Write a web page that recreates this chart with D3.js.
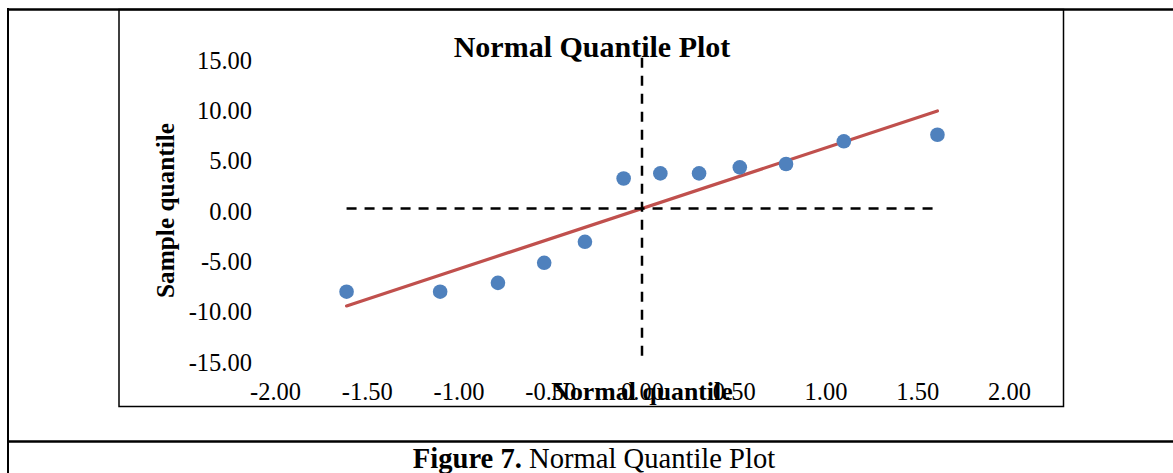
<!DOCTYPE html>
<html>
<head>
<meta charset="utf-8">
<script src="https://cdn.jsdelivr.net/npm/d3@7"></script>
<style>
  body { margin: 0; background: #fff; }
  svg { display: block; font-family: 'Liberation Serif', serif; }
</style>
</head>
<body>
<svg id="chart" width="1173" height="473"></svg>
<script>
// theoretical normal quantiles (x) and the sorted sample (y)
const normalQuantiles = [-1.61, -1.10, -0.785, -0.533, -0.311, -0.10, 0.10, 0.311, 0.533, 0.785, 1.10, 1.61];
const sampleQuantiles = [-8.26, -8.26, -7.38, -5.39, -3.30, 2.99, 3.50, 3.50, 4.10, 4.43, 6.69, 7.34];

// reference line drawn through the points
const fitX = [-1.61, 1.61];
const fitY = [-9.68, 9.70];

// tick labels
const xTicks = [-2, -1.5, -1, -0.5, 0, 0.5, 1, 1.5, 2];
const yTicks = [-15, -10, -5, 0, 5, 10, 15];

const svg = d3.select('#chart');

// page table lines round the figure
svg.append('line').attr('x1', 8).attr('x2', 1173).attr('y1', 9.5).attr('y2', 9.5)
    .attr('stroke', '#000').attr('stroke-width', 2.5);
svg.append('line').attr('x1', 8).attr('x2', 8).attr('y1', 8).attr('y2', 473)
    .attr('stroke', '#000').attr('stroke-width', 2);
svg.append('line').attr('x1', 8).attr('x2', 1173).attr('y1', 441.5).attr('y2', 441.5)
    .attr('stroke', '#000').attr('stroke-width', 2.5);

// chart frame
svg.append('rect').attr('x', 119).attr('y', 9.5).attr('width', 944.5).attr('height', 397)
    .attr('fill', 'none').attr('stroke', '#000').attr('stroke-width', 1.5);

// scales
const x = d3.scaleLinear().domain([-2, 2]).range([275, 1009]);
const y = d3.scaleLinear().domain([-15, 15]).range([359.5, 57.7]);

const fmt = d => d.toFixed(2);

// y axis labels
const yAxis = svg.append('g')
    .attr('transform', 'translate(' + x(-2) + ',0)')
    .call(d3.axisLeft(y).tickValues(yTicks).tickFormat(fmt).tickSize(0).tickPadding(23));
yAxis.select('.domain').remove();
yAxis.selectAll('text')
    .attr('font-family', 'Liberation Serif, serif')
    .attr('font-size', 24.5)
    .attr('fill', '#000')
    .attr('dy', '0.43em');

// x axis labels (sit well below the plot, as in the original)
const xAxis = svg.append('g')
    .attr('transform', 'translate(0,' + 400 + ')')
    .call(d3.axisBottom(x).tickValues(xTicks).tickFormat(fmt).tickSize(0).tickPadding(0));
xAxis.select('.domain').remove();
xAxis.selectAll('text')
    .attr('font-family', 'Liberation Serif, serif')
    .attr('font-size', 24.5)
    .attr('fill', '#000')
    .attr('y', 0)
    .attr('dy', 0);

// fitted line
svg.append('line')
    .attr('x1', x(fitX[0])).attr('y1', y(fitY[0]))
    .attr('x2', x(fitX[1])).attr('y2', y(fitY[1]))
    .attr('stroke', '#C0504D').attr('stroke-width', 3.2).attr('stroke-linecap', 'round');

// dashed zero lines
svg.append('line')
    .attr('x1', x(d3.min(normalQuantiles))).attr('x2', x(d3.max(normalQuantiles)))
    .attr('y1', y(0)).attr('y2', y(0))
    .attr('stroke', '#000').attr('stroke-width', 2.5).attr('stroke-dasharray', '10,8');
svg.append('line')
    .attr('x1', x(0)).attr('x2', x(0))
    .attr('y1', y(15)).attr('y2', y(-15))
    .attr('stroke', '#000').attr('stroke-width', 2.5).attr('stroke-dasharray', '10,8');

// points
svg.selectAll('.pt')
    .data(normalQuantiles)
  .enter().append('circle')
    .attr('class', 'pt')
    .attr('cx', d => x(d))
    .attr('cy', (d, i) => y(sampleQuantiles[i]))
    .attr('r', 7.3)
    .attr('fill', '#4F81BD');

// titles
svg.append('text')
    .attr('x', 592).attr('y', 56.5)
    .attr('text-anchor', 'middle')
    .attr('font-weight', 'bold').attr('font-size', 30)
    .text('Normal Quantile Plot');

svg.append('text')
    .attr('transform', 'translate(174,210.5) rotate(-90)')
    .attr('text-anchor', 'middle')
    .attr('font-weight', 'bold').attr('font-size', 25.3)
    .text('Sample quantile');

svg.append('text')
    .attr('x', 642).attr('y', 400)
    .attr('text-anchor', 'middle')
    .attr('font-weight', 'bold').attr('font-size', 25.8)
    .text('Normal quantile');

// caption under the figure
const cap = svg.append('text')
    .attr('x', 594).attr('y', 468)
    .attr('text-anchor', 'middle')
    .attr('font-size', 28.6);
cap.append('tspan').attr('font-weight', 'bold').text('Figure 7.');
cap.append('tspan').text(' Normal Quantile Plot');
</script>
</body>
</html>
